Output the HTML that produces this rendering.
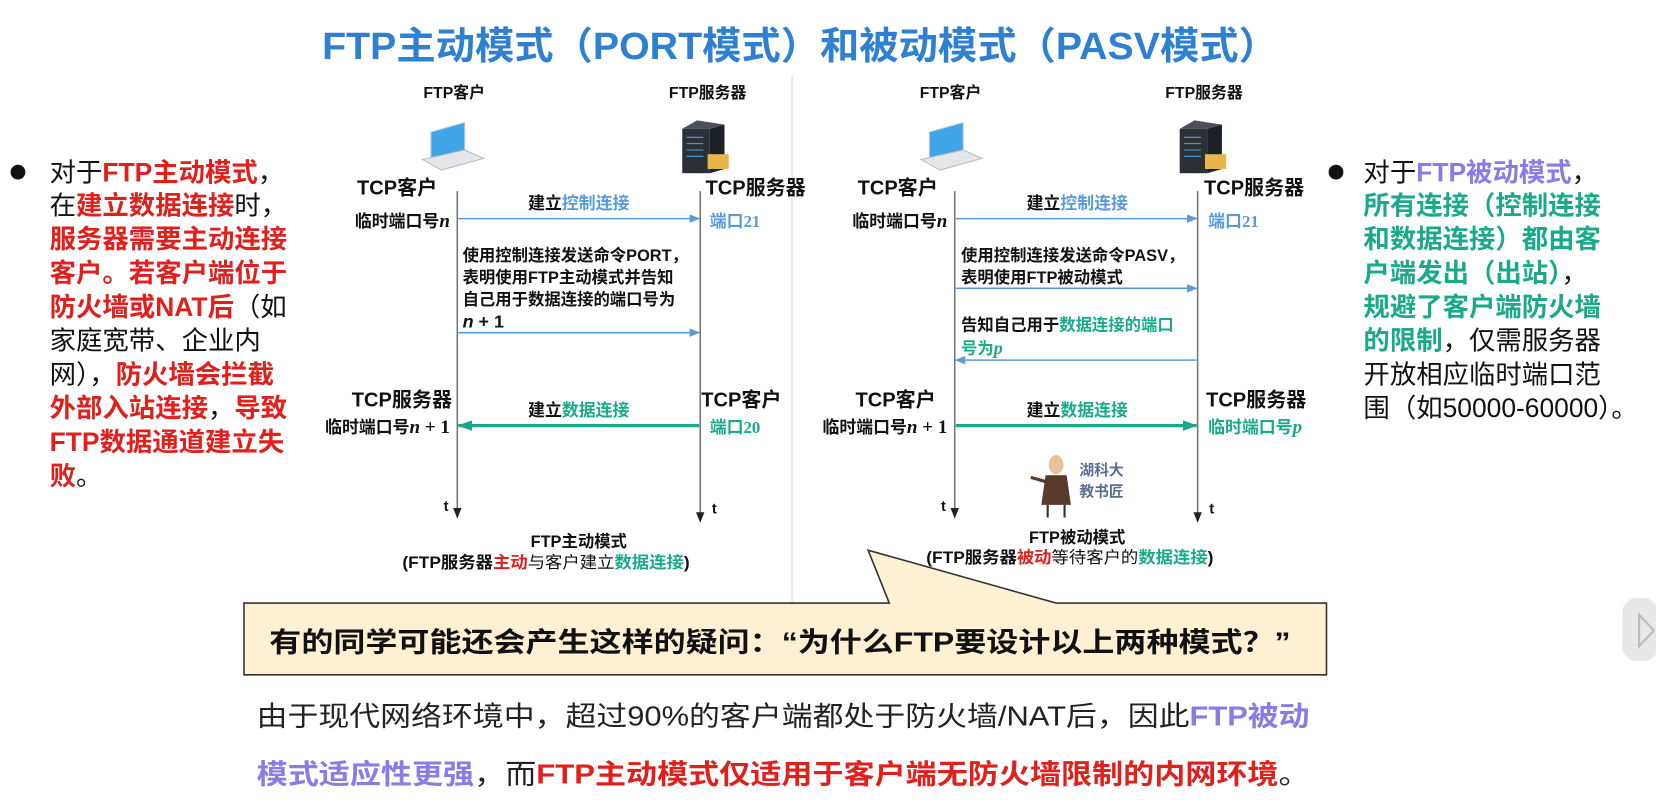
<!DOCTYPE html>
<html><head><meta charset="utf-8"><style>
html,body{margin:0;padding:0;background:#fff;}
svg{display:block;}
text{font-family:"Liberation Sans","Noto Sans CJK SC",sans-serif;}
.b{font-weight:bold;}
</style></head><body>
<svg width="1656" height="800" viewBox="0 0 1568 757.5" xmlns="http://www.w3.org/2000/svg">
<defs>
<marker id="ab" markerWidth="10" markerHeight="8" refX="9" refY="4" orient="auto" markerUnits="userSpaceOnUse"><path d="M0,0 L10,4 L0,8 Z" fill="#5b9bd5"/></marker>
<marker id="ag" markerWidth="14" markerHeight="10" refX="13" refY="5" orient="auto" markerUnits="userSpaceOnUse"><path d="M0,0 L14,5 L0,10 Z" fill="#1aaa8a"/></marker>
<marker id="ak" markerWidth="10" markerHeight="8" refX="9" refY="4" orient="auto" markerUnits="userSpaceOnUse"><path d="M0,0 L10,4 L0,8 Z" fill="#222"/></marker>
</defs>
<text x="305" y="56" textLength="905" lengthAdjust="spacingAndGlyphs" class="b" font-size="36" fill="#2f80d0">FTP主动模式（PORT模式）和被动模式（PASV模式）</text>
<line x1="750" y1="72" x2="750" y2="572" stroke="#e4e4e4" stroke-width="1.5"/>

<circle cx="17" cy="163" r="7" fill="#111"/>
<g font-size="25" fill="#111">
<text x="47" y="172">对于<tspan class="b" fill="#e0201c">FTP主动模式</tspan>，</text>
<text x="47" y="203">在<tspan class="b" fill="#e0201c">建立数据连接</tspan>时，</text>
<text x="47" y="235" class="b" fill="#e0201c">服务器需要主动连接</text>
<text x="47" y="267" class="b" fill="#e0201c">客户。若客户端位于</text>
<text x="47" y="299"><tspan class="b" fill="#e0201c">防火墙或NAT后</tspan>（如</text>
<text x="47" y="331">家庭宽带、企业内</text>
<text x="47" y="363">网），<tspan class="b" fill="#e0201c">防火墙会拦截</tspan></text>
<text x="47" y="395"><tspan class="b" fill="#e0201c">外部入站连接</tspan>，<tspan class="b" fill="#e0201c">导致</tspan></text>
<text x="47" y="427" class="b" fill="#e0201c">FTP数据通道建立失</text>
<text x="47" y="459"><tspan class="b" fill="#e0201c">败</tspan>。</text>
</g>

<circle cx="1265" cy="163" r="7" fill="#111"/>
<g font-size="25" fill="#111">
<text x="1291" y="172">对于<tspan class="b" fill="#8a7ce6">FTP被动模式</tspan>，</text>
<text x="1291" y="203" class="b" fill="#1aaa8a">所有连接（控制连接</text>
<text x="1291" y="235" class="b" fill="#1aaa8a">和数据连接）都由客</text>
<text x="1291" y="267"><tspan class="b" fill="#1aaa8a">户端发出（出站）</tspan>，</text>
<text x="1291" y="299" class="b" fill="#1aaa8a">规避了客户端防火墙</text>
<text x="1291" y="331"><tspan class="b" fill="#1aaa8a">的限制</tspan>，仅需服务器</text>
<text x="1291" y="363">开放相应临时端口范</text>
<text x="1291" y="395">围（如50000-60000）。</text>
</g>

<g>
<polygon points="408,125 440,116 440,142 408,151" fill="#3fa4e8" stroke="#bcd" stroke-width="1"/>
<polygon points="400,151 440,142 458,150 418,161" fill="#e4e6ea" stroke="#bbb" stroke-width="1"/>
</g>
<g>
<polygon points="880,125 912,116 912,142 880,151" fill="#3fa4e8" stroke="#bcd" stroke-width="1"/>
<polygon points="872,151 912,142 930,150 890,161" fill="#e4e6ea" stroke="#bbb" stroke-width="1"/>
</g>
<g>
<rect x="646" y="122" width="26" height="42" fill="#2b2f36"/><polygon points="646,122 660,114 686,118 672,122" fill="#4a4f58"/><polygon points="672,122 686,118 686,160 672,164" fill="#1d2026"/>
<g stroke="#4fa6d8" stroke-width="1"><line x1="650" y1="130" x2="666" y2="130"/><line x1="650" y1="136" x2="666" y2="136"/><line x1="650" y1="142" x2="666" y2="142"/><line x1="650" y1="148" x2="666" y2="148"/></g>
<rect x="670" y="146" width="20" height="14" fill="#e8b64a"/>
</g>
<g>
<rect x="1117" y="122" width="26" height="42" fill="#2b2f36"/><polygon points="1117,122 1131,114 1157,118 1143,122" fill="#4a4f58"/><polygon points="1143,122 1157,118 1157,160 1143,164" fill="#1d2026"/>
<g stroke="#4fa6d8" stroke-width="1"><line x1="1121" y1="130" x2="1137" y2="130"/><line x1="1121" y1="136" x2="1137" y2="136"/><line x1="1121" y1="142" x2="1137" y2="142"/><line x1="1121" y1="148" x2="1137" y2="148"/></g>
<rect x="1141" y="146" width="20" height="14" fill="#e8b64a"/>
</g>

<g class="b" font-size="15" fill="#111">
<text x="430" y="93" text-anchor="middle">FTP客户</text>
<text x="670" y="93" text-anchor="middle">FTP服务器</text>
<text x="900" y="93" text-anchor="middle">FTP客户</text>
<text x="1140" y="93" text-anchor="middle">FTP服务器</text>
</g>

<line x1="433" y1="181" x2="433" y2="490" stroke="#777" stroke-width="1.5" marker-end="url(#ak)"/>
<line x1="663" y1="181" x2="663" y2="494" stroke="#777" stroke-width="1.5" marker-end="url(#ak)"/>
<g class="b" fill="#111">
<text x="376" y="184" text-anchor="middle" font-size="19">TCP客户</text>
<text x="426" y="215" text-anchor="end" font-size="16">临时端口号<tspan font-family="Liberation Serif" font-style="italic" font-size="18">n</tspan></text>
<text x="668" y="184" font-size="19">TCP服务器</text>
<text x="672" y="215" font-size="16" fill="#5b9bd5">端口<tspan font-family="Liberation Serif">21</tspan></text>
<text x="548" y="198" text-anchor="middle" font-size="16">建立<tspan fill="#5b9bd5">控制连接</tspan></text>
<text x="438" y="247" font-size="15.5">使用控制连接发送命令PORT，</text>
<text x="438" y="268" font-size="15.5">表明使用FTP主动模式并告知</text>
<text x="438" y="289" font-size="15.5">自己用于数据连接的端口号为</text>
<text x="438" y="310" font-size="17" font-family="Liberation Serif"><tspan font-style="italic">n</tspan> + 1</text>
<text x="428" y="385" text-anchor="end" font-size="19">TCP服务器</text>
<text x="426" y="410" text-anchor="end" font-size="16">临时端口号<tspan font-family="Liberation Serif" font-size="18"><tspan font-style="italic">n</tspan> + 1</tspan></text>
<text x="664" y="385" font-size="19">TCP客户</text>
<text x="672" y="410" font-size="16" fill="#1aaa8a">端口<tspan font-family="Liberation Serif">20</tspan></text>
<text x="548" y="394" text-anchor="middle" font-size="16">建立<tspan fill="#1aaa8a">数据连接</tspan></text>
<text x="420" y="484" font-size="14">t</text>
<text x="674" y="486" font-size="14">t</text>
<text x="548" y="518" text-anchor="middle" font-size="15.5">FTP主动模式</text>
<text x="381" y="538" textLength="272" lengthAdjust="spacingAndGlyphs" font-size="15.5">(FTP服务器<tspan fill="#e0201c">主动</tspan><tspan font-weight="normal">与客户建立</tspan><tspan fill="#1aaa8a">数据连接</tspan>)</text>
</g>
<line x1="434" y1="207" x2="662" y2="207" stroke="#5b9bd5" stroke-width="1.5" marker-end="url(#ab)"/>
<line x1="434" y1="315" x2="662" y2="315" stroke="#5b9bd5" stroke-width="1.5" marker-end="url(#ab)"/>
<line x1="662" y1="403" x2="434" y2="403" stroke="#1aaa8a" stroke-width="3" marker-end="url(#ag)"/>

<line x1="904" y1="181" x2="904" y2="490" stroke="#777" stroke-width="1.5" marker-end="url(#ak)"/>
<line x1="1134" y1="181" x2="1134" y2="494" stroke="#777" stroke-width="1.5" marker-end="url(#ak)"/>
<g class="b" fill="#111">
<text x="850" y="184" text-anchor="middle" font-size="19">TCP客户</text>
<text x="897" y="215" text-anchor="end" font-size="16">临时端口号<tspan font-family="Liberation Serif" font-style="italic" font-size="18">n</tspan></text>
<text x="1140" y="184" font-size="19">TCP服务器</text>
<text x="1144" y="215" font-size="16" fill="#5b9bd5">端口<tspan font-family="Liberation Serif">21</tspan></text>
<text x="1020" y="198" text-anchor="middle" font-size="16">建立<tspan fill="#5b9bd5">控制连接</tspan></text>
<text x="910" y="247" font-size="15.5">使用控制连接发送命令PASV，</text>
<text x="910" y="268" font-size="15.5">表明使用FTP被动模式</text>
<text x="910" y="313" font-size="15.5">告知自己用于<tspan fill="#1aaa8a">数据连接的端口</tspan></text>
<text x="910" y="335" font-size="15.5" fill="#1aaa8a">号为<tspan font-family="Liberation Serif" font-style="italic" font-size="17">p</tspan></text>
<text x="886" y="385" text-anchor="end" font-size="19">TCP客户</text>
<text x="897" y="410" text-anchor="end" font-size="16">临时端口号<tspan font-family="Liberation Serif" font-size="18"><tspan font-style="italic">n</tspan> + 1</tspan></text>
<text x="1142" y="385" font-size="19">TCP服务器</text>
<text x="1144" y="410" font-size="16" fill="#1aaa8a">临时端口号<tspan font-family="Liberation Serif" font-style="italic" font-size="18">p</tspan></text>
<text x="1020" y="394" text-anchor="middle" font-size="16">建立<tspan fill="#1aaa8a">数据连接</tspan></text>
<text x="891" y="484" font-size="14">t</text>
<text x="1145" y="486" font-size="14">t</text>
<text x="1020" y="514" text-anchor="middle" font-size="15.5">FTP被动模式</text>
<text x="877" y="533" textLength="272" lengthAdjust="spacingAndGlyphs" font-size="15.5">(FTP服务器<tspan fill="#e0201c">被动</tspan><tspan font-weight="normal">等待客户的</tspan><tspan fill="#1aaa8a">数据连接</tspan>)</text>
</g>
<line x1="905" y1="207" x2="1133" y2="207" stroke="#5b9bd5" stroke-width="1.5" marker-end="url(#ab)"/>
<line x1="905" y1="273" x2="1133" y2="273" stroke="#5b9bd5" stroke-width="1.5" marker-end="url(#ab)"/>
<line x1="1133" y1="341" x2="905" y2="341" stroke="#5b9bd5" stroke-width="1.5" marker-end="url(#ab)"/>
<line x1="905" y1="403" x2="1133" y2="403" stroke="#1aaa8a" stroke-width="3" marker-end="url(#ag)"/>

<g>
<ellipse cx="1000" cy="440" rx="7" ry="9" fill="#e8c39a"/>
<path d="M990,450 L1010,450 L1014,478 L986,478 Z" fill="#5a3a2a"/>
<line x1="992" y1="478" x2="992" y2="490" stroke="#333" stroke-width="2"/><line x1="1008" y1="478" x2="1008" y2="490" stroke="#333" stroke-width="2"/>
<line x1="990" y1="456" x2="976" y2="452" stroke="#5a3a2a" stroke-width="3"/>
<text x="1022" y="450" font-size="14" fill="#5a6f90" class="b">湖科大</text>
<text x="1022" y="470" font-size="14" fill="#5a6f90" class="b">教书匠</text>
</g>

<path d="M231,571 L842,571 L822,521 L1000,571 L1256,571 L1256,639 L231,639 Z" fill="#fdf0d3" stroke="#333" stroke-width="1.5"/>
<text x="255" y="617" textLength="967" lengthAdjust="spacingAndGlyphs" font-size="26" class="b" fill="#111">有的同学可能还会产生这样的疑问：“为什么FTP要设计以上两种模式？”</text>

<text x="243" y="687" textLength="997" lengthAdjust="spacingAndGlyphs" font-size="26" fill="#222">由于现代网络环境中，超过90%的客户端都处于防火墙/NAT后，因此<tspan class="b" fill="#8a7ce6">FTP被动</tspan></text>
<text x="243" y="742" textLength="997" lengthAdjust="spacingAndGlyphs" font-size="26" fill="#222"><tspan class="b" fill="#8a7ce6">模式适应性更强</tspan>，而<tspan class="b" fill="#e0201c">FTP主动模式仅适用于客户端无防火墙限制的内网环境</tspan>。</text>

<rect x="1536" y="566" width="34" height="60" rx="14" fill="#e8e8e8"/>
<path d="M1552,582 L1566,597 L1552,612 Z" fill="none" stroke="#bbb" stroke-width="2"/>
</svg>
</body></html>
